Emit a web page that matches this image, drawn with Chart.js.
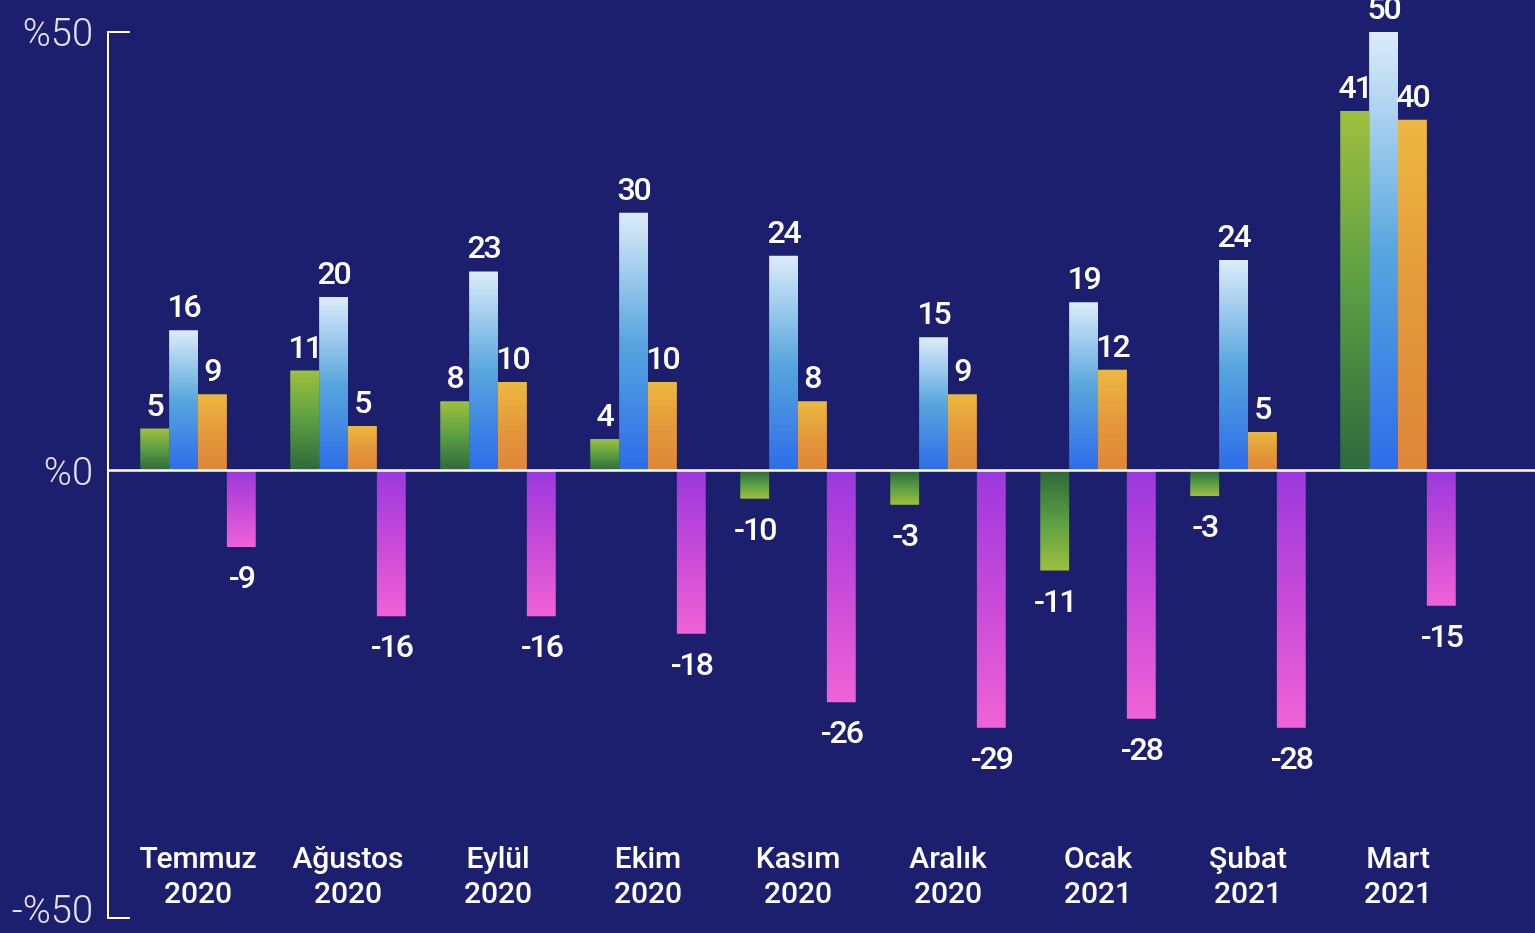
<!DOCTYPE html>
<html>
<head>
<meta charset="utf-8">
<script src="https://cdn.jsdelivr.net/npm/chart.js@4/dist/chart.umd.min.js"></script>
<style>
  html, body { margin: 0; padding: 0; background: #1b1f6e; }
  #wrap { width: 1535px; height: 933px; }
</style>
</head>
<body>
<div id="wrap"><canvas id="changes" width="1535" height="933"></canvas></div>
<script>
// Categories (two lines each)
const months = [
  ['Temmuz', '2020'], ['Ağustos', '2020'], ['Eylül', '2020'], ['Ekim', '2020'],
  ['Kasım', '2020'], ['Aralık', '2020'], ['Ocak', '2021'], ['Şubat', '2021'], ['Mart', '2021']
];

// Bar heights
const greenValues  = [4.8, 11.4, 7.9, 3.6, -3.2, -3.9, -11.4, -2.9, 41];
const blueValues   = [16, 19.8, 22.7, 29.4, 24.5, 15.2, 19.2, 24, 50];
const orangeValues = [8.7, 5.1, 10.1, 10.1, 7.9, 8.7, 11.5, 4.4, 40];
const pinkValues   = [-8.7, -16.6, -16.6, -18.6, -26.4, -29.3, -28.3, -29.3, -15.4];

// Numbers printed next to the bars
const greenLabels  = [5, 11, 8, 4, -10, -3, -11, -3, 41];
const blueLabels   = [16, 20, 23, 30, 24, 15, 19, 24, 50];
const orangeLabels = [9, 5, 10, 10, 8, 9, 12, 5, 40];
const pinkLabels   = [-9, -16, -16, -18, -26, -29, -28, -28, -15];

// Y axis ticks
const yTicks = [50, 0, -50];

const bg = '#1b1f6e';

/** Gradient running from the bar end (first stop) to the zero line (last stop) */
function barGradient(stops) {
  return (context) => {
    const { chart, raw } = context;
    const { ctx, chartArea, scales } = chart;
    if (!chartArea || raw === undefined) return stops[stops.length - 1];
    const yEnd = scales.y.getPixelForValue(raw);
    const yZero = scales.y.getPixelForValue(0);
    const g = ctx.createLinearGradient(0, yEnd, 0, yZero);
    stops.forEach((c, i) => g.addColorStop(i / (stops.length - 1), c));
    return g;
  };
}

const valueLabels = {
  id: 'valueLabels',
  afterDatasetsDraw(chart) {
    const { ctx, chartArea, scales } = chart;
    const y = scales.y;
    const x = scales.x;
    const zero = y.getPixelForValue(0);

    ctx.save();
    // zero line
    ctx.strokeStyle = '#ffffff';
    ctx.lineWidth = 2.5;
    ctx.beginPath();
    ctx.moveTo(chartArea.left - 16, zero);
    ctx.lineTo(chart.width, zero);
    ctx.stroke();

    // left axis with end ticks
    const axisX = chartArea.left - 15;
    ctx.lineWidth = 2;
    ctx.beginPath();
    ctx.moveTo(axisX + 22, chartArea.top);
    ctx.lineTo(axisX, chartArea.top);
    ctx.lineTo(axisX, chartArea.bottom);
    ctx.lineTo(axisX + 22, chartArea.bottom);
    ctx.stroke();

    // y tick labels
    ctx.fillStyle = '#e4e4f2';
    ctx.font = '300 38px Roboto';
    ctx.textAlign = 'right';
    ctx.textBaseline = 'alphabetic';
    yTicks.forEach(v => {
      const txt = v < 0 ? '-%' + Math.abs(v) : '%' + v;
      ctx.fillText(txt, axisX - 15, y.getPixelForValue(v) + 14);
    });

    // numbers at the bar ends
    ctx.fillStyle = '#ffffff';
    ctx.font = '500 32px Roboto';
    ctx.letterSpacing = '-2px';
    ctx.textAlign = 'center';
    chart.data.datasets.forEach((ds, di) => {
      const meta = chart.getDatasetMeta(di);
      meta.data.forEach((bar, i) => {
        const label = ds.printed[i];
        const v = ds.data[i];
        const ty = v >= 0 ? bar.y - 13 : bar.y + 41;
        ctx.fillText(String(label), bar.x, ty);
      });
    });

    // category labels near the bottom of the plot
    ctx.letterSpacing = '0px';
    ctx.font = '500 30px Roboto';
    months.forEach((m, i) => {
      const cx = x.getPixelForValue(i);
      ctx.fillText(m[0], cx, chartArea.bottom - 50);
      ctx.fillText(m[1], cx, chartArea.bottom - 15);
    });
    ctx.restore();
  }
};

const background = {
  id: 'background',
  beforeDraw(chart) {
    const { ctx } = chart;
    ctx.save();
    ctx.fillStyle = bg;
    ctx.fillRect(0, 0, chart.width, chart.height);
    ctx.restore();
  }
};

const ctx = document.getElementById('changes').getContext('2d');

new Chart(ctx, {
  type: 'bar',
  data: {
    labels: months.map(m => m.join(' ')),
    datasets: [
      { data: greenValues, printed: greenLabels,
        backgroundColor: barGradient(['#9ec03e', '#5a9e43', '#2e683b']) },
      { data: blueValues, printed: blueLabels,
        backgroundColor: barGradient(['#dcecf9', '#58a6de', '#2d6ce9']) },
      { data: orangeValues, printed: orangeLabels,
        backgroundColor: barGradient(['#edb840', '#e3993b', '#df8638']) },
      { data: pinkValues, printed: pinkLabels,
        backgroundColor: barGradient(['#f062d6', '#c84ad8', '#9b38de']) }
    ]
  },
  options: {
    responsive: false,
    animation: false,
    layout: { padding: { left: 123, right: 62, top: 32, bottom: 15 } },
    datasets: {
      bar: { categoryPercentage: 0.77, barPercentage: 1, borderWidth: 0 }
    },
    plugins: {
      legend: { display: false },
      title: { display: false },
      tooltip: { enabled: false }
    },
    scales: {
      x: { display: false, grid: { display: false } },
      y: { display: false, min: -51, max: 50, grid: { display: false } }
    }
  },
  plugins: [background, valueLabels]
});
</script>
</body>
</html>
